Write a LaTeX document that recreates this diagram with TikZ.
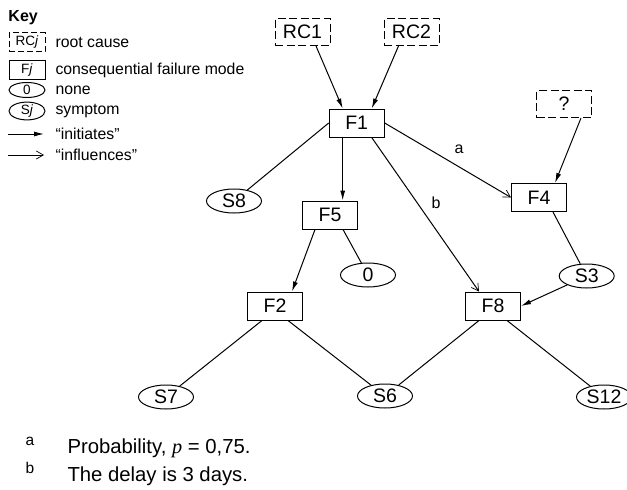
\documentclass[tikz,border=0pt]{standalone}
\usepackage{fontspec}
\setmainfont{Liberation Sans}
\newfontfamily\serifit{Liberation Serif}
\usetikzlibrary{arrows.meta,shapes.geometric}
\begin{document}
\begin{tikzpicture}[x=1pt,y=-1pt,line width=1pt,
	fbox/.style={draw,rectangle,minimum width=55pt,minimum height=28pt,inner sep=0pt,font=\fontsize{19.5}{22}\selectfont},
	rcbox/.style={fbox,minimum height=27pt,dash pattern=on 8pt off 3.5pt},
	sym/.style={draw,ellipse,minimum width=55pt,minimum height=24pt,inner sep=0pt,font=\fontsize{19.5}{22}\selectfont},
	kbox/.style={minimum width=36pt,minimum height=19pt,font=\fontsize{13.5}{15}\selectfont},
	ksym/.style={minimum width=36pt,minimum height=15pt,font=\fontsize{13.5}{15}\selectfont},
	ktext/.style={anchor=west,inner sep=0pt,font=\fontsize{15.8}{18}\selectfont},
	lbl/.style={inner sep=0pt,font=\fontsize{16}{18}\selectfont},
	initiates/.style={-{Latex[length=10pt,width=5pt]}},
	influences/.style={-{Straight Barb[length=7pt,width=8pt,line width=0.7pt]}}]
	\useasboundingbox (0,0) rectangle (627,490);
	% key
	\node[anchor=base west,inner sep=0pt,font=\bfseries\fontsize{16}{18}\selectfont] (keyhead) at (8,21) {Key};
	\node[rcbox,kbox,dash pattern=on 6pt off 3pt] (kRC) at (27,42) {RC\textit{j}};
	\node[fbox,kbox] (kF) at (27,70) {F\textit{j}};
	\node[sym,ksym] (kZ) at (27,90) {0};
	\node[sym,ksym] (kS) at (27,111) {S\textit{j}};
	\coordinate (kI1) at (8,134); \coordinate (kI2) at (44,134);
	\coordinate (kN1) at (8,155); \coordinate (kN2) at (44,155);
	\draw[initiates] (kI1) -- (kI2);
	\draw[influences] (kN1) -- (kN2);
	\node[ktext] (tRC) at (55,42) {root cause};
	\node[ktext] (tF) at (55,70) {consequential failure mode};
	\node[ktext] (tZ) at (55,90) {none};
	\node[ktext] (tS) at (55,111) {symptom};
	\node[ktext] (tI) at (55,134) {“initiates”};
	\node[ktext] (tN) at (55,155) {“influences”};
	% nodes
	\node[rcbox] (RC1) at (302.5,32) {RC1};
	\node[rcbox] (RC2) at (411.5,32) {RC2};
	\node[rcbox] (RCq) at (564,104) {?};
	\node[fbox] (F1) at (356.7,123) {F1};
	\node[fbox] (F4) at (539,197.5) {F4};
	\node[fbox] (F5) at (330,215) {F5};
	\node[fbox] (F2) at (275,306) {F2};
	\node[fbox] (F8) at (493,306) {F8};
	\node[sym] (S8) at (234,201) {S8};
	\node[sym] (S0) at (368,275) {0};
	\node[sym] (S3) at (586.7,276) {S3};
	\node[sym] (S7) at (166,397) {S7};
	\node[sym] (S6) at (385,396) {S6};
	\node[sym] (S12) at (604,397) {S12};
	% connectors
	\draw[initiates] ([xshift=13.5pt]RC1.south) -- ([xshift=-14pt]F1.north);
	\draw[initiates] ([xshift=-13pt]RC2.south) -- ([xshift=15pt]F1.north);
	\draw[initiates] ([xshift=17pt]RCq.south) -- ([xshift=16pt]F4.north);
	\draw (F1.west) -- (S8);
	\draw[initiates] ([xshift=-14pt]F1.south) -- ([xshift=-14pt]F1.south |- F5.north);
	\draw[influences] (F1.east) -- (F4.west);
	\draw[influences] ([xshift=15pt]F1.south) -- ([xshift=-14pt]F8.north);
	\draw ([xshift=14pt]F4.south) -- (S3);
	\draw[initiates] (S3) -- (F8.east);
	\draw[initiates] ([xshift=-15pt]F5.south) -- ([xshift=17pt]F2.north);
	\draw ([xshift=13pt]F5.south) -- (S0);
	\draw ([xshift=-13pt]F2.south) -- (S7);
	\draw ([xshift=13pt]F2.south) -- (S6);
	\draw ([xshift=-14pt]F8.south) -- (S6);
	\draw ([xshift=14pt]F8.south) -- (S12);
	\node[lbl] (la) at (459,149) {a};
	\node[lbl] (lb) at (436,203) {b};
	% notes
	\node[anchor=base west,inner sep=0pt,font=\fontsize{15.5}{18}\selectfont] (na) at (25,445) {a};
	\node[anchor=base west,inner sep=0pt,font=\fontsize{15.5}{18}\selectfont] (nb) at (25,473) {b};
	\node[anchor=base west,inner sep=0pt,font=\fontsize{20.3}{24}\selectfont] (ta) at (67,453) {Probability, {\serifit\itshape p} = 0,75.};
	\node[anchor=base west,inner sep=0pt,font=\fontsize{20.3}{24}\selectfont] (tb) at (67,481) {The delay is 3 days.};
\end{tikzpicture}
\end{document}
